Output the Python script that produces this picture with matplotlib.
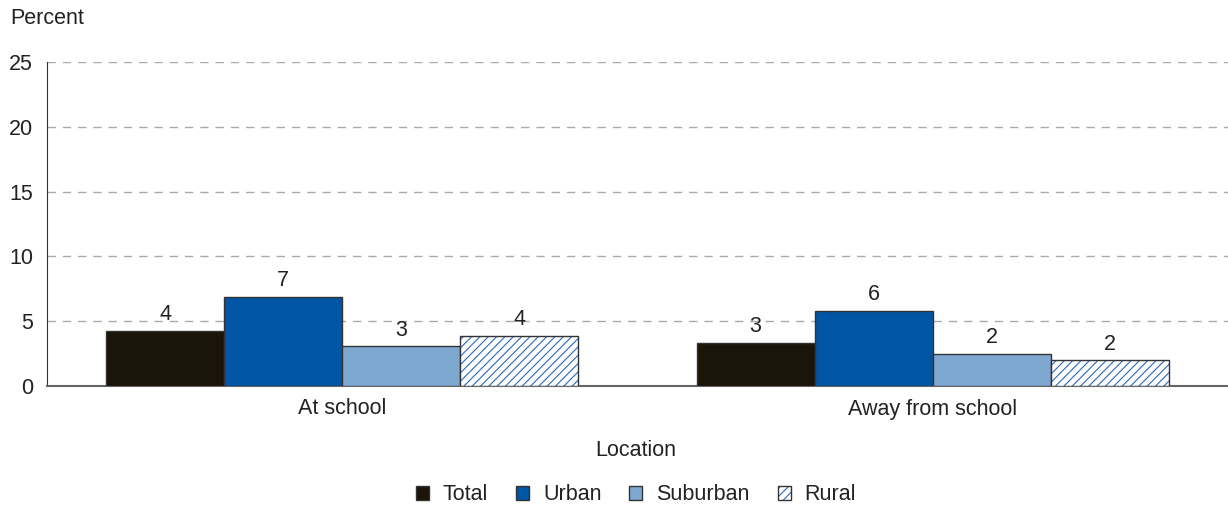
import matplotlib
matplotlib.use("Agg")
import matplotlib.pyplot as plt
import numpy as np

plt.rcParams['font.family'] = ['Liberation Sans', 'DejaVu Sans']
plt.rcParams['hatch.linewidth'] = 0.8

locations = ["At school", "Away from school"]
series = ["Total", "Urban", "Suburban", "Rural"]
total = [4.24, 3.35]
urban = [6.85, 5.8]
suburban = [3.05, 2.5]
rural = [3.88, 1.98]
labels_total = ["4", "3"]
labels_urban = ["7", "6"]
labels_suburban = ["3", "2"]
labels_rural = ["4", "2"]
yticks = [0, 5, 10, 15, 20, 25]

values = [total, urban, suburban, rural]
labels = [labels_total, labels_urban, labels_suburban, labels_rural]
colors = ["#1a1508", "#0055a4", "#7fa8d0", "white"]
hatches = [None, None, None, "////"]

FS = 15.5
fig = plt.figure(figsize=(12.28, 5.08), dpi=100)
ax = fig.add_axes([47/1228, (508-386)/508, (1228-47)/1228, (386-62)/508])

x = np.arange(len(locations))
w = 0.2
for i, (vals, labs) in enumerate(zip(values, labels)):
    pos = x + (i - 1.5) * w
    bars = ax.bar(pos, vals, width=w, color=colors[i], edgecolor="#333333",
                  linewidth=1.0, hatch=hatches[i], label=series[i], zorder=3)
    if hatches[i]:
        for b in bars:
            b._hatch_color = matplotlib.colors.to_rgba("#2a6ab8")
    for p, v, l in zip(pos, vals, labs):
        ax.text(p, v + 0.45, l, ha="center", va="bottom", fontsize=FS, color="#222222")

ax.set_xlim(-0.5, 1.5)
ax.set_ylim(0, 25)
ax.set_yticks(yticks)
ax.set_yticklabels([str(t) for t in yticks], fontsize=FS, color="#222222")
ax.set_xticks(x)
ax.set_xticklabels(locations, fontsize=FS, color="#222222")
ax.tick_params(axis="x", length=0, pad=9)
ax.tick_params(axis="y", length=0, pad=10)
ax.yaxis.grid(True, linestyle=(0, (6, 5)), color="#aaaaaa", linewidth=1.0, zorder=0)
ax.set_axisbelow(True)
for s in ["top", "right"]:
    ax.spines[s].set_visible(False)
ax.spines["left"].set_color("#333333")
ax.spines["bottom"].set_color("#666666")
ax.spines["bottom"].set_linewidth(1.5)

fig.text(10/1228, 1 - 18/508, "Percent", fontsize=FS, color="#222222", va="center", ha="left")
fig.text(636/1228, 1 - 450/508, "Location", fontsize=FS, color="#222222", va="center", ha="center")

handles, labs = ax.get_legend_handles_labels()
leg = fig.legend(handles, labs, loc="center", bbox_to_anchor=(636/1228, 1 - 495/508), ncol=4,
                 frameon=False, fontsize=FS, handlelength=0.6, handleheight=0.6,
                 handletextpad=0.65, columnspacing=1.3)
for t in leg.get_texts():
    t.set_color("#222222")

fig.savefig("out.png", dpi=100)
